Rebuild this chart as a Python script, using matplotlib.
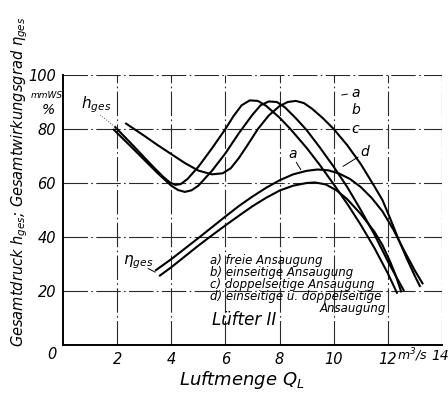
import matplotlib
matplotlib.use("Agg")
import matplotlib.pyplot as plt

# Air volume flow Q_L [m^3/s] and total pressure h_ges [mmWS]
qa_h = [1.9, 2.5, 3.0, 3.4, 3.7, 3.95, 4.15, 4.35, 4.6, 5.0, 5.5, 6.0, 6.3, 6.6, 6.9, 7.2, 7.5, 8.0, 8.4,
        9.0, 9.5, 10.0, 10.5, 11.0, 11.5, 12.0, 12.35]
ha = [81.0, 74.8, 69.5, 65.3, 62.3, 60.2, 59.3, 59.6, 61.5, 66.0, 72.8, 80.0, 84.8, 88.8, 90.6, 90.4, 88.6,
      84.2, 80.0, 73.0, 66.5, 59.5, 52.3, 44.5, 36.0, 26.5, 19.0]

qb_h = [1.85, 2.5, 3.0, 3.5, 4.0, 4.25, 4.5, 4.75, 5.0, 5.5, 6.0, 6.5, 7.0, 7.3, 7.6, 7.9, 8.2, 8.6, 9.0,
        9.5, 10.0, 10.5, 11.0, 11.5, 12.0, 12.35, 12.6]
hb = [80.0, 73.6, 68.6, 63.6, 59.0, 57.4, 56.7, 57.3, 59.0, 64.5, 71.0, 78.5, 85.3, 88.8, 90.2, 90.0, 88.0,
      84.0, 79.6, 73.0, 66.0, 58.5, 50.0, 41.0, 31.0, 24.5, 20.0]

qc_h = [2.3, 3.0, 3.5, 4.0, 4.5, 5.0, 5.5, 5.9, 6.2, 6.5, 6.8, 7.2, 7.6, 8.0, 8.3, 8.6, 8.9, 9.2, 9.6,
        10.0, 10.5, 11.0, 11.5, 11.8, 12.1, 12.4, 12.7, 13.0, 13.2]
hc = [82.2, 77.5, 74.0, 70.7, 67.4, 64.6, 63.2, 63.6, 65.5, 69.3, 73.8, 80.0, 85.0, 88.5, 90.0, 90.4, 89.6,
      87.5, 84.0, 80.0, 74.0, 67.0, 58.8, 53.7, 46.5, 39.0, 32.0, 25.5, 21.5]

# Total efficiency eta_ges [%]
qa_eta = [3.4, 4.0, 4.5, 5.0, 5.5, 6.0, 6.5, 7.0, 7.5, 8.0, 8.5, 9.0, 9.4, 9.8, 10.2, 10.6, 11.0, 11.4,
          11.8, 12.2, 12.6, 13.0, 13.3]
eta_a = [27.5, 31.8, 35.7, 39.6, 43.6, 47.6, 51.5, 55.0, 58.2, 61.0, 63.2, 64.5, 65.0, 64.7, 63.5, 61.5,
         58.5, 54.5, 49.5, 42.8, 35.0, 27.5, 22.5]

qd_eta = [3.55, 4.0, 4.5, 5.0, 5.5, 6.0, 6.5, 7.0, 7.5, 8.0, 8.5, 9.0, 9.3, 9.7, 10.1, 10.5, 11.0, 11.5,
          11.8, 12.1, 12.3, 12.5]
eta_d = [25.5, 28.8, 32.8, 36.8, 40.6, 44.3, 47.9, 51.4, 54.5, 57.2, 59.0, 60.0, 60.2, 59.5, 57.3, 54.0,
         48.5, 42.0, 37.0, 30.5, 25.5, 19.5]

x_ticks = [2, 4, 6, 8, 10, 12, 14]
y_ticks = [20, 40, 60, 80, 100]
legend_lines = ["a) freie Ansaugung", "b) einseitige Ansaugung",
                "c) doppelseitige Ansaugung", "d) einseitige u. doppelseitige"]

plt.rcParams["mathtext.fontset"] = "dejavusans"
plt.rcParams["font.family"] = ["DejaVu Sans"]
plt.rcParams["font.style"] = "italic"

fig = plt.figure(figsize=(4.48, 3.93), dpi=100)
ax = fig.add_axes([63 / 448, 48 / 393, 379 / 448, 270 / 393])
ax.set_xlim(0, 14)
ax.set_ylim(0, 100)

grid_style = dict(color="#2a2a2a", lw=0.8, ls=(0, (22, 3, 1.5, 3)))
for gx in x_ticks:
    ax.axvline(gx, **grid_style)
for gy in y_ticks:
    ax.axhline(gy, **grid_style)

for side in ("top", "right"):
    ax.spines[side].set_visible(False)
for side in ("left", "bottom"):
    ax.spines[side].set_linewidth(1.4)

curve = dict(color="black", lw=1.5, solid_capstyle="butt")
ax.plot(qa_h, ha, **curve)
ax.plot(qb_h, hb, **curve)
ax.plot(qc_h, hc, **curve)
ax.plot(qa_eta, eta_a, **curve)
ax.plot(qd_eta, eta_d, **curve)

# the last tick label sits at the figure edge and is placed by hand below
ax.set_xticks(x_ticks)
ax.set_xticklabels([str(v) for v in x_ticks[:-1]] + [""], fontsize=10.5)
ax.set_yticks(y_ticks)
ax.set_yticklabels([str(v) for v in y_ticks], fontsize=10.5)
ax.tick_params(length=0, pad=5)
ax.text(13.95, -3.9, str(x_ticks[-1]), fontsize=10, ha="center", va="center", clip_on=False)

ax.text(-0.4, -3.7, "0", fontsize=10.5, ha="center", va="center", clip_on=False)
ax.text(-0.6, 92.4, "mmWS", fontsize=6.5, ha="center", va="center", clip_on=False)
ax.text(-0.55, 87.0, "%", fontsize=10, ha="center", va="center", clip_on=False)
ax.text(12.33, -3.9, "m$^3$/s", fontsize=9, ha="left", va="center", clip_on=False)

# curve annotations
ax.text(0.65, 89.0, "$h_{ges}$", fontsize=11, ha="left", va="center")
ax.plot([1.37, 2.0], [85.2, 80.2], color="#555555", lw=0.7, ls=":")
ax.text(2.2, 30.5, r"$\eta_{ges}$", fontsize=11, ha="left", va="center")
ax.plot([3.15, 3.4], [28.3, 27.0], color="black", lw=0.7)

ax.text(10.65, 93.3, "a", fontsize=10, ha="left", va="center")
ax.text(10.65, 87.0, "b", fontsize=10, ha="left", va="center")
ax.text(10.65, 80.0, "c", fontsize=10, ha="left", va="center")
ax.plot([10.3, 10.5], [92.6, 92.9], color="black", lw=0.7)
ax.plot([10.05, 10.5], [80.0, 80.0], color="black", lw=0.7)
ax.text(8.5, 70.6, "a", fontsize=10, ha="center", va="center")
ax.plot([8.62, 8.78], [67.6, 65.0], color="black", lw=0.7)
ax.text(11.15, 71.5, "d", fontsize=10, ha="center", va="center")
ax.plot([10.9, 10.35], [69.6, 66.2], color="black", lw=0.7)

for i, line in enumerate(legend_lines):
    ax.text(5.42, 31.2 - 4.4 * i, line, fontsize=8.5, ha="left", va="center")
ax.text(11.93, 13.7, "Ansaugung", fontsize=8.5, ha="right", va="center")
ax.text(5.5, 9.3, "Lüfter II", fontsize=12, ha="left", va="center")

fig.text(20 / 448, 1 - 182 / 393,
         r"Gesamtdruck $h_{ges}$; Gesamtwirkungsgrad $\eta_{ges}$",
         rotation=90, fontsize=10.5, ha="center", va="center")
fig.text(242 / 448, 13 / 393, "Luftmenge $Q_L$", fontsize=13, ha="center", va="center")

fig.savefig("out.png", dpi=100)
